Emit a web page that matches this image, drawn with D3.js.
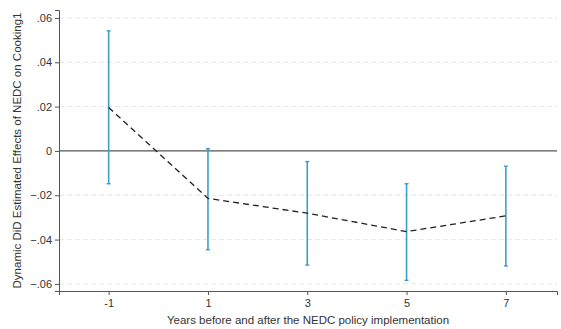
<!DOCTYPE html>
<html>
<head>
<meta charset="utf-8">
<script src="https://cdn.jsdelivr.net/npm/d3@7"></script>
<style>
  html, body { margin: 0; padding: 0; background: #fff; }
  svg text { font-family: "Liberation Sans", Arial, sans-serif; fill: #333; }
</style>
</head>
<body>
<svg id="chart" width="561" height="329"></svg>
<script>
const periods = [-1, 1, 3, 5, 7];
const estimates = [0.0196, -0.0214, -0.0281, -0.0364, -0.0293];
const upperCI = [0.0542, 0.0010, -0.0048, -0.0148, -0.0069];
const lowerCI = [-0.0148, -0.0446, -0.0515, -0.0584, -0.0519];
const yTicks = [-0.06, -0.04, -0.02, 0, 0.02, 0.04, 0.06];
const xTicks = [-1, 1, 3, 5, 7];

const data = periods.map((p, i) => ({
  x: p, y: estimates[i], hi: upperCI[i], lo: lowerCI[i],
}));

const svg = d3.select("#chart");
const margin = { top: 10, right: 4, bottom: 38, left: 59 };
const width = 561, height = 329;
const innerW = width - margin.left - margin.right;
const innerH = height - margin.top - margin.bottom;

const g = svg.append("g").attr("transform", `translate(${margin.left},${margin.top})`);

const x = d3.scaleLinear().domain([-2, 8.03]).range([0, innerW]);
const y = d3.scaleLinear().domain([-0.0632, 0.0636]).range([innerH, 0]);

// dashed grid
g.append("g")
  .selectAll("line")
  .data(yTicks.filter((t) => t !== 0))
  .join("line")
  .attr("x1", 0)
  .attr("x2", innerW)
  .attr("y1", (d) => y(d))
  .attr("y2", (d) => y(d))
  .attr("stroke", "#e6e6e6")
  .attr("stroke-dasharray", "5,3");

// zero line
g.append("line")
  .attr("x1", 0).attr("x2", innerW)
  .attr("y1", y(0)).attr("y2", y(0))
  .attr("stroke", "#555").attr("stroke-width", 1.3);

const fmt = (d) => (d === 0 ? "0" : d3.format(".2f")(d).replace("0.", "."));

const yAxis = g.append("g")
  .call(d3.axisLeft(y).tickValues(yTicks).tickSize(4).tickPadding(3).tickFormat(fmt));
const xAxis = g.append("g")
  .attr("transform", `translate(0,${innerH})`)
  .call(d3.axisBottom(x).tickValues(xTicks).tickSize(4).tickPadding(4).tickFormat(d3.format("d")));

[yAxis, xAxis].forEach((a) => {
  a.select(".domain").attr("stroke", "#555");
  a.selectAll(".tick line").attr("stroke", "#555");
  a.selectAll(".tick text").attr("font-size", 11).attr("fill", "#444");
});
xAxis.selectAll(".tick text").text((d) => (d < 0 ? "-" + Math.abs(d) : d));

// error bars
const errColor = "#3d9fc4";
const bars = g.append("g");
bars.selectAll("line.bar")
  .data(data)
  .join("line")
  .attr("class", "bar")
  .attr("x1", (d) => x(d.x)).attr("x2", (d) => x(d.x))
  .attr("y1", (d) => y(d.hi)).attr("y2", (d) => y(d.lo))
  .attr("stroke", errColor).attr("stroke-width", 1.6);
["hi", "lo"].forEach((k) => {
  bars.selectAll(`line.cap-${k}`)
    .data(data)
    .join("line")
    .attr("class", `cap-${k}`)
    .attr("x1", (d) => x(d.x) - 2).attr("x2", (d) => x(d.x) + 2)
    .attr("y1", (d) => y(d[k])).attr("y2", (d) => y(d[k]))
    .attr("stroke", errColor).attr("stroke-width", 1.4);
});

// estimate line
g.append("path")
  .datum(data)
  .attr("fill", "none")
  .attr("stroke", "#222")
  .attr("stroke-width", 1.3)
  .attr("stroke-dasharray", "6,4")
  .attr("d", d3.line().x((d) => x(d.x)).y((d) => y(d.y)));

// labels
svg.append("text")
  .attr("x", margin.left + innerW / 2)
  .attr("y", 324)
  .attr("text-anchor", "middle")
  .attr("font-size", 11.5)
  .text("Years before and after the NEDC policy implementation");

svg.append("text")
  .attr("transform", `translate(21,${margin.top + innerH / 2}) rotate(-90)`)
  .attr("text-anchor", "middle")
  .attr("font-size", 11.5)
  .text("Dynamic DiD Estimated Effects of NEDC on Cooking1");
</script>
</body>
</html>
